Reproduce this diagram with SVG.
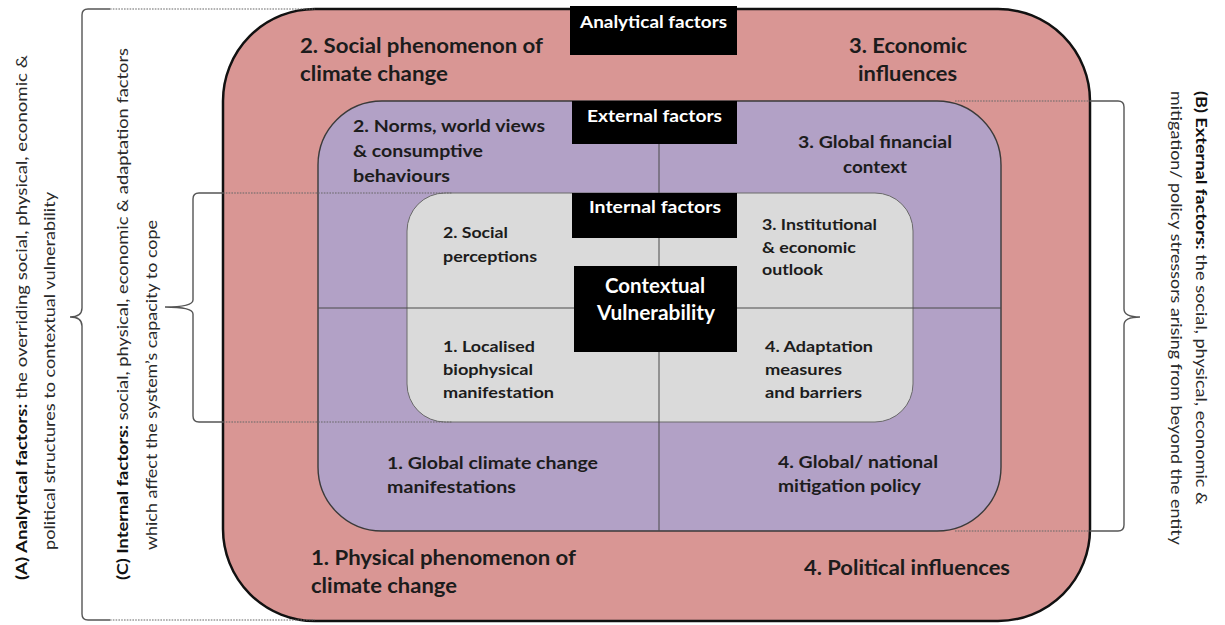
<svg xmlns="http://www.w3.org/2000/svg" width="1225" height="625" viewBox="0 0 1225 625">
  <style>
    text { font-family: Lato, "Open Sans", "Liberation Sans", sans-serif; fill: #1c1c1c; }
    .t1 { font-size: 20.5px; font-weight: 700; }
    .t2 { font-size: 17.5px; font-weight: 700; }
    .t3 { font-size: 16px; font-weight: 700; }
    .mid { text-anchor: middle; }
    .lab { font-size: 17px; font-weight: 700; fill: #ffffff; text-anchor: middle; }
    .core { font-size: 20px; font-weight: 700; fill: #ffffff; text-anchor: middle; }
    .side { font-size: 15.5px; font-weight: 400; fill: #2a2a2a; }
    .b { font-weight: 700; fill: #111; }
    .ring-a { fill: #d99694; stroke: #111; stroke-width: 2.5; }
    .ring-b { fill: #b2a1c6; stroke: #3a3a3a; stroke-width: 1.4; }
    .ring-c { fill: #dadada; stroke: #6a6a6a; stroke-width: 1; }
    .cross { stroke: #4a4a4a; stroke-width: 1; fill: none; }
    .tag { fill: #000000; }
    .brace { fill: none; stroke: #555; stroke-width: 1.4; }
    .dots { fill: none; stroke: #666; stroke-width: 1.2; stroke-dasharray: 1.6 1.2; }
  </style>

  <!-- (A) analytical ring -->
  <g id="analytical">
    <rect class="ring-a" x="223" y="9" width="867" height="612" rx="92" ry="92"/>
    <text class="t1" x="300" y="53" textLength="243" lengthAdjust="spacingAndGlyphs">2. Social phenomenon of</text>
    <text class="t1" x="300" y="81" textLength="148" lengthAdjust="spacingAndGlyphs">climate change</text>
    <text class="t1 mid" x="908" y="53" textLength="118" lengthAdjust="spacingAndGlyphs">3. Economic</text>
    <text class="t1 mid" x="907.5" y="81" textLength="99" lengthAdjust="spacingAndGlyphs">influences</text>
    <text class="t1" x="311" y="565" textLength="265" lengthAdjust="spacingAndGlyphs">1. Physical phenomenon of</text>
    <text class="t1" x="311" y="593" textLength="146" lengthAdjust="spacingAndGlyphs">climate change</text>
    <text class="t1" x="804" y="575" textLength="206" lengthAdjust="spacingAndGlyphs">4. Political influences</text>
  </g>

  <!-- (B) external ring -->
  <g id="external">
    <rect class="ring-b" x="318" y="101" width="683" height="430" rx="64" ry="64"/>
    <text class="t2" x="353" y="132" textLength="192" lengthAdjust="spacingAndGlyphs">2. Norms, world views</text>
    <text class="t2" x="353" y="157" textLength="130" lengthAdjust="spacingAndGlyphs">&amp; consumptive</text>
    <text class="t2" x="353" y="182" textLength="97" lengthAdjust="spacingAndGlyphs">behaviours</text>
    <text class="t2 mid" x="875" y="148" textLength="154" lengthAdjust="spacingAndGlyphs">3. Global financial</text>
    <text class="t2 mid" x="875" y="173" textLength="64" lengthAdjust="spacingAndGlyphs">context</text>
    <text class="t2" x="387" y="469" textLength="211" lengthAdjust="spacingAndGlyphs">1. Global climate change</text>
    <text class="t2" x="387" y="493" textLength="129" lengthAdjust="spacingAndGlyphs">manifestations</text>
    <text class="t2" x="778" y="468" textLength="160" lengthAdjust="spacingAndGlyphs">4. Global/ national</text>
    <text class="t2" x="778" y="492" textLength="143" lengthAdjust="spacingAndGlyphs">mitigation policy</text>
  </g>

  <!-- (C) internal ring -->
  <g id="internal">
    <rect class="ring-c" x="407" y="193" width="506" height="229" rx="38" ry="38"/>
    <text class="t3" x="443" y="238" textLength="65" lengthAdjust="spacingAndGlyphs">2. Social</text>
    <text class="t3" x="443" y="262" textLength="94" lengthAdjust="spacingAndGlyphs">perceptions</text>
    <text class="t3" x="762" y="230" textLength="115" lengthAdjust="spacingAndGlyphs">3. Institutional</text>
    <text class="t3" x="762" y="253" textLength="94" lengthAdjust="spacingAndGlyphs">&amp; economic</text>
    <text class="t3" x="762" y="275" textLength="61" lengthAdjust="spacingAndGlyphs">outlook</text>
    <text class="t3" x="443" y="352" textLength="92" lengthAdjust="spacingAndGlyphs">1. Localised</text>
    <text class="t3" x="443" y="375" textLength="90" lengthAdjust="spacingAndGlyphs">biophysical</text>
    <text class="t3" x="443" y="398" textLength="111" lengthAdjust="spacingAndGlyphs">manifestation</text>
    <text class="t3" x="765" y="352" textLength="108" lengthAdjust="spacingAndGlyphs">4. Adaptation</text>
    <text class="t3" x="765" y="375" textLength="77" lengthAdjust="spacingAndGlyphs">measures</text>
    <text class="t3" x="765" y="398" textLength="97" lengthAdjust="spacingAndGlyphs">and barriers</text>
  </g>

  <!-- quadrant dividers -->
  <g id="quadrants">
    <line class="cross" x1="659" y1="101" x2="659" y2="531"/>
    <line class="cross" x1="318" y1="308" x2="1001" y2="308"/>
  </g>

  <!-- black heading tags -->
  <g id="tag-analytical">
    <rect class="tag" x="570" y="6" width="167" height="49"/>
    <text class="lab" x="653.5" y="28" textLength="147" lengthAdjust="spacingAndGlyphs">Analytical factors</text>
  </g>
  <g id="tag-external">
    <rect class="tag" x="572" y="101" width="165" height="43"/>
    <text class="lab" x="654.5" y="122" textLength="135" lengthAdjust="spacingAndGlyphs">External factors</text>
  </g>
  <g id="tag-internal">
    <rect class="tag" x="572" y="193" width="165" height="45"/>
    <text class="lab" x="655" y="213" textLength="132" lengthAdjust="spacingAndGlyphs">Internal factors</text>
  </g>
  <g id="core">
    <rect class="tag" x="574" y="266" width="163" height="86"/>
    <text class="core" x="655" y="293" textLength="100" lengthAdjust="spacingAndGlyphs">Contextual</text>
    <text class="core" x="656" y="320" textLength="118" lengthAdjust="spacingAndGlyphs">Vulnerability</text>
  </g>

  <!-- braces and their guide lines -->
  <g id="connectors">
    <path class="dots" d="M110 9 H315 M110 620 H315"/>
    <path class="brace" d="M110 9 H88 Q82 9 82 15 V308 Q82 317 70 317 Q82 317 82 326 V614 Q82 620 88 620 H110"/>
    <path class="dots" d="M223 193 H452 M223 422 H452"/>
    <path class="brace" d="M223 193 H199 Q193 193 193 199 V300 Q193 307 165 307 Q193 307 193 314 V416 Q193 422 199 422 H223"/>
    <path class="dots" d="M955 101 H1090 M955 531 H1090"/>
    <path class="brace" d="M1090 101 H1118 Q1124 101 1124 107 V309 Q1124 317 1140 317 Q1124 317 1124 325 V525 Q1124 531 1118 531 H1090"/>
  </g>

  <!-- side annotations -->
  <g id="note-a">
    <text class="side" transform="translate(27,580) rotate(-90)" textLength="525" lengthAdjust="spacingAndGlyphs"><tspan class="b">(A) Analytical factors:</tspan>  the overriding social, physical, economic &amp;</text>
    <text class="side" transform="translate(55,550) rotate(-90)" textLength="358" lengthAdjust="spacingAndGlyphs">political structures to contextual vulnerability</text>
  </g>
  <g id="note-c">
    <text class="side" transform="translate(128,580) rotate(-90)" textLength="532" lengthAdjust="spacingAndGlyphs"><tspan class="b">(C) Internal factors:</tspan> social, physical, economic &amp; adaptation factors</text>
    <text class="side" transform="translate(157,550) rotate(-90)" textLength="330" lengthAdjust="spacingAndGlyphs">which affect the system’s capacity to cope</text>
  </g>
  <g id="note-b">
    <text class="side" transform="translate(1196,91) rotate(90)" textLength="414" lengthAdjust="spacingAndGlyphs"><tspan class="b">(B) External factors:</tspan> the social, physical, economic &amp;</text>
    <text class="side" transform="translate(1171,91) rotate(90)" textLength="454" lengthAdjust="spacingAndGlyphs">mitigation/ policy stressors arising from beyond the entity</text>
  </g>
</svg>
